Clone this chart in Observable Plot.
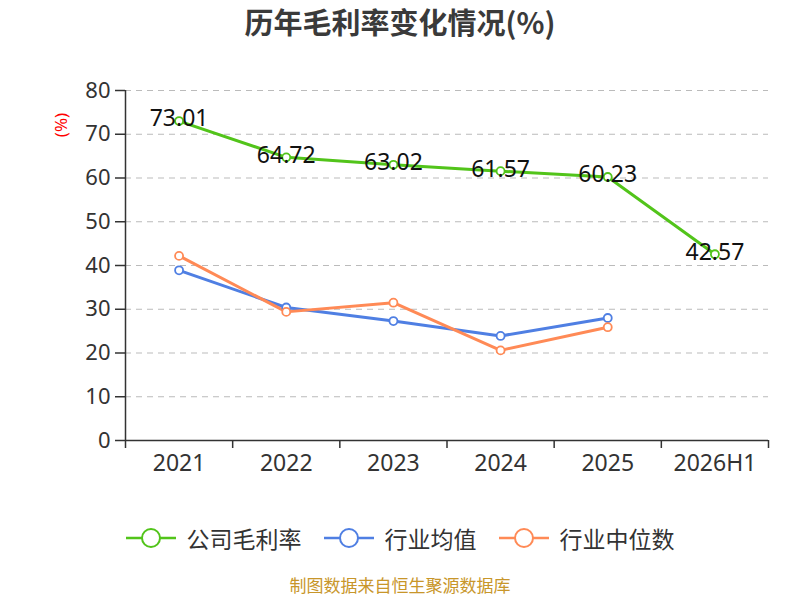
<!DOCTYPE html>
<html><head><meta charset="utf-8">
<script src="https://cdn.jsdelivr.net/npm/d3@7"></script>
<script src="https://cdn.jsdelivr.net/npm/@observablehq/plot@0.6"></script>
<style>
body{margin:0;width:800px;height:600px;background:#fff;font-family:"Noto Sans CJK SC","Noto Sans",sans-serif;overflow:hidden}
#title{text-align:center;font-size:29px;font-weight:bold;color:#3a3a3a;height:46px;line-height:42px}
#chart{height:440px}
#legend{display:flex;justify-content:center;align-items:center;gap:22px;height:40px;margin-top:32px;font-size:23px;color:#333}
.item{display:flex;align-items:center;gap:11px}
.item svg{display:block}
#caption{text-align:center;font-size:17px;color:#c8962a;height:22px;line-height:22px;margin-top:16px}
</style></head>
<body>
<div id="title">历年毛利率变化情况(%)</div>
<div id="chart"></div>
<div id="legend"></div>
<div id="caption">制图数据来自恒生聚源数据库</div>
<script>
const categories = ["2021","2022","2023","2024","2025","2026H1"];
const companyMargin = [73.01, 64.72, 63.02, 61.57, 60.23, 42.57];
const industryAvg = [38.9, 30.4, 27.3, 23.9, 28.0];
const industryMedian = [42.2, 29.4, 31.5, 20.6, 25.9];
const yTicks = [0,10,20,30,40,50,60,70,80];
const seriesNames = ["公司毛利率","行业均值","行业中位数"];
const colors = ["#52c41a","#4f7fe3","#ff8a56"];

const idx = categories.map((_, i) => i);
const bounds = d3.range(-0.5, categories.length, 1);
const comp = companyMargin.map((v, i) => ({i, v}));
const avg = industryAvg.map((v, i) => ({i, v}));
const med = industryMedian.map((v, i) => ({i, v}));

const plot = Plot.plot({
  width: 800, height: 440,
  marginLeft: 125, marginRight: 32, marginTop: 44, marginBottom: 46,
  style: {fontFamily: '"Noto Sans","Noto Sans CJK SC",sans-serif', background: "#fff"},
  x: {domain: [-0.5, categories.length - 0.5]},
  y: {domain: [0, 80]},
  marks: [
    Plot.gridY(yTicks.filter(d => d > 0), {stroke: "#bbb", strokeOpacity: 1, strokeDasharray: "6,5", strokeWidth: 1.2}),
    Plot.axisY({ticks: yTicks, tickSize: 10, tickPadding: 5, fontSize: 22, color: "#333", label: null, stroke: "#333", strokeWidth: 1.5}),
    Plot.ruleX([-0.5], {stroke: "#333", strokeWidth: 1.5}),
    Plot.ruleY([0], {stroke: "#333", strokeWidth: 1.5}),
    Plot.axisX({ticks: bounds, tickSize: 8, tickFormat: () => "", label: null, stroke: "#333", strokeWidth: 1.5}),
    Plot.axisX({ticks: idx, tickSize: 0, tickPadding: 14, tickFormat: i => categories[i], fontSize: 23, color: "#333", label: null}),
    Plot.line(avg, {x: "i", y: "v", stroke: colors[1], strokeWidth: 3}),
    Plot.line(med, {x: "i", y: "v", stroke: colors[2], strokeWidth: 3}),
    Plot.line(comp, {x: "i", y: "v", stroke: colors[0], strokeWidth: 3}),
    Plot.dot(avg, {x: "i", y: "v", r: 4, fill: "#fff", stroke: colors[1], strokeWidth: 1.8}),
    Plot.dot(med, {x: "i", y: "v", r: 4, fill: "#fff", stroke: colors[2], strokeWidth: 1.8}),
    Plot.dot(comp, {x: "i", y: "v", r: 4, fill: "#fff", stroke: colors[0], strokeWidth: 1.8}),
    Plot.text(comp, {x: "i", y: "v", text: d => d.v.toFixed(2), fontSize: 23, fill: "#111", dy: -2})
  ]
});
const svg = d3.select(plot);
svg.append("text").attr("transform", "translate(62,79) rotate(-90)")
  .attr("text-anchor", "middle").attr("dominant-baseline", "middle")
  .attr("fill", "red").attr("font-size", 17).text("(%)");
document.getElementById("chart").append(plot);

const legend = document.getElementById("legend");
seriesNames.forEach((name, k) => {
  const it = document.createElement("div");
  it.className = "item";
  it.innerHTML = `<svg width="50" height="24"><line x1="0" y1="12" x2="50" y2="12" stroke="${colors[k]}" stroke-width="2.5"/><circle cx="25" cy="12" r="9" fill="#fff" stroke="${colors[k]}" stroke-width="2"/></svg><span>${name}</span>`;
  legend.append(it);
});
</script>
</body></html>
